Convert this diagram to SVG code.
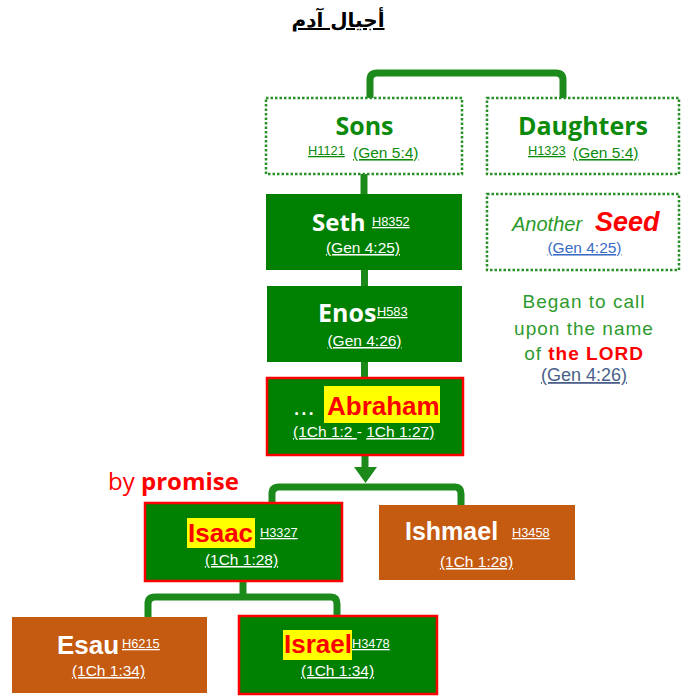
<svg xmlns="http://www.w3.org/2000/svg" width="683" height="696" viewBox="0 0 683 696">
<style>
.conn{fill:none;stroke:#1b8a1b;stroke-width:7;stroke-linecap:butt}
.dot{fill:#fff;stroke:#2a8f2a;stroke-width:2.5;stroke-dasharray:2.5 2}
.gbox{fill:#008000}
.rbox{fill:#008000;stroke:#ff0000;stroke-width:2.5}
.obox{fill:#c55a11}
.hl{fill:#ffff00}
.os{font-family:"Open Sans","DejaVu Sans",sans-serif;font-weight:bold}
.ar{font-family:"Liberation Sans",Arial,sans-serif}
.b{font-weight:bold}
.u{text-decoration:underline}
.sup{font-family:"Liberation Sans",Arial,sans-serif;font-size:12.8px;text-decoration:underline}
.ref{font-family:"Liberation Sans",Arial,sans-serif;font-size:15.5px}
.w{fill:#fff}
.g{fill:#0b8a0b}
.r{fill:#ff0000}
</style>
<g id="title">
<text x="338" y="27" text-anchor="middle" font-family="DejaVu Sans, sans-serif" font-weight="bold" font-size="20" fill="#000" text-decoration="underline">أجيال آدم</text>
</g>
<g id="connectors">
<path class="conn" d="M370,98 V80 Q370,73 377,73 H556 Q563,73 563,80 V98"/>
<line class="conn" x1="364" y1="174" x2="364" y2="195"/>
<line class="conn" x1="364.5" y1="269" x2="364.5" y2="287"/>
<line class="conn" x1="364.5" y1="361" x2="364.5" y2="378"/>
<line class="conn" x1="365" y1="455" x2="365" y2="468"/>
<polygon points="354,467 377,467 365.5,483" fill="#1b8a1b"/>
<path class="conn" d="M272,504 V494 Q272,487 279,487 H455 Q461,487 461,494 V506"/>
<line class="conn" x1="243" y1="580" x2="243" y2="598"/>
<path class="conn" d="M148,618 V604 Q148,597 155,597 H331 Q337,597 337,604 V616"/>
</g>
<g id="sons">
<rect class="dot" x="266" y="98" width="196" height="76"/>
<text class="os g" x="364.5" y="135" text-anchor="middle" font-size="25">Sons</text>
<text class="sup g" x="308" y="155">H1121</text>
<text class="ref g u" x="353" y="158">(Gen 5:4)</text>
</g>
<g id="daughters">
<rect class="dot" x="487" y="98" width="192" height="76"/>
<text class="os g" x="583" y="135" text-anchor="middle" font-size="25">Daughters</text>
<text class="sup g" x="528" y="155">H1323</text>
<text class="ref g u" x="573" y="158">(Gen 5:4)</text>
</g>
<g id="seth">
<rect class="gbox" x="266" y="194" width="196" height="76"/>
<text class="os w" x="312" y="231" font-size="24">Seth</text>
<text class="sup w" x="372" y="226">H8352</text>
<text class="ref w u" x="363" y="253" text-anchor="middle">(Gen 4:25)</text>
</g>
<g id="another-seed">
<rect class="dot" x="487" y="194" width="192" height="76"/>
<text class="ar" x="512" y="231" font-size="20" font-style="italic" fill="#2a9a2a">Another</text>
<text class="ar b r" x="595" y="231" font-size="27" font-style="italic">Seed</text>
<text class="ref u" x="584.5" y="253" text-anchor="middle" fill="#3a6cc4">(Gen 4:25)</text>
</g>
<g id="enos">
<rect class="gbox" x="267" y="286" width="195" height="76"/>
<text class="os w" x="318" y="322" font-size="25">Enos</text>
<text class="sup w" x="377" y="316">H583</text>
<text class="ref w u" x="364.5" y="346" text-anchor="middle">(Gen 4:26)</text>
</g>
<g id="began-note">
<text class="ar" x="584" y="308" text-anchor="middle" font-size="19" letter-spacing="1" fill="#2e9b2e">Began to call</text>
<text class="ar" x="584" y="335" text-anchor="middle" font-size="19" letter-spacing="1" fill="#2e9b2e">upon the name</text>
<text class="ar" x="584" y="360" text-anchor="middle" font-size="19" letter-spacing="1" fill="#2e9b2e">of <tspan class="b r">the LORD</tspan></text>
<text class="ar u" x="584" y="381" text-anchor="middle" font-size="18" fill="#4a5f8a">(Gen 4:26)</text>
</g>
<g id="abraham">
<rect class="rbox" x="267" y="378" width="196" height="77"/>
<rect class="hl" x="324" y="386" width="116" height="37"/>
<text class="ar w" x="293" y="415" font-size="26">...</text>
<text class="ar b r" x="327" y="415" font-size="26">Abraham</text>
<text class="ref w" x="293" y="437"><tspan class="u">(1Ch 1:2 </tspan>- <tspan class="u">1Ch 1:27)</tspan></text>
</g>
<g id="by-promise">
<text class="os r" x="108" y="490" font-size="24"><tspan font-weight="normal">by</tspan> promise</text>
</g>
<g id="isaac">
<rect class="rbox" x="145" y="503" width="197" height="78"/>
<rect class="hl" x="187" y="518" width="68" height="30"/>
<text class="ar b r" x="188" y="542" font-size="26">Isaac</text>
<text class="sup w" x="260" y="537">H3327</text>
<text class="ref w u" x="241.5" y="565" text-anchor="middle">(1Ch 1:28)</text>
</g>
<g id="ishmael">
<rect class="obox" x="379" y="505" width="196" height="75"/>
<text class="ar b w" x="405" y="540" font-size="25">Ishmael</text>
<text class="sup w" x="512" y="537">H3458</text>
<text class="ref w u" x="476.5" y="567" text-anchor="middle">(1Ch 1:28)</text>
</g>
<g id="esau">
<rect class="obox" x="12" y="617" width="195" height="76"/>
<text class="ar b w" x="57" y="654" font-size="26">Esau</text>
<text class="sup w" x="122" y="648">H6215</text>
<text class="ref w u" x="108.5" y="676" text-anchor="middle">(1Ch 1:34)</text>
</g>
<g id="israel">
<rect class="rbox" x="239" y="616" width="198" height="78"/>
<rect class="hl" x="283" y="630" width="69" height="30"/>
<text class="ar b r" x="284" y="653" font-size="26">Israel</text>
<text class="sup w" x="352" y="648">H3478</text>
<text class="ref w u" x="337.5" y="676" text-anchor="middle">(1Ch 1:34)</text>
</g>
</svg>
